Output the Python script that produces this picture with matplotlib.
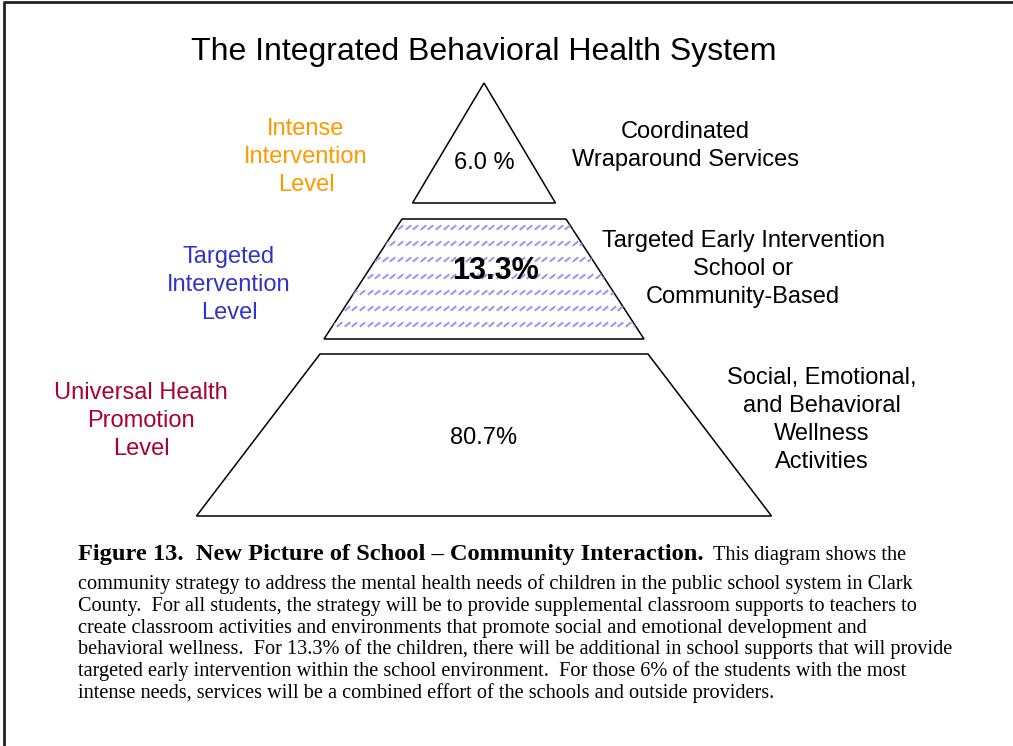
import matplotlib
matplotlib.use('Agg')
import matplotlib.pyplot as plt
import numpy as np
from matplotlib.patches import Polygon
from matplotlib.path import Path

plt.rcParams['font.family'] = ['Liberation Sans', 'DejaVu Sans']

# data
title = 'The Integrated Behavioral Health System'
levels = ['Intense\nIntervention\nLevel',
          'Targeted\nIntervention\nLevel',
          'Universal Health\nPromotion\nLevel']
level_colors = ['#ff9900', '#3333cc', '#aa0033']
shares = [6.0, 13.3, 80.7]
share_labels = ['6.0 %', '13.3%', '80.7%']
services = ['Coordinated\nWraparound Services',
            'Targeted Early Intervention\nSchool or\nCommunity-Based',
            'Social, Emotional,\nand Behavioral\nWellness\nActivities']
caption_head = 'Figure 13.  New Picture of School \u2013 Community Interaction.'
caption_first = 'This diagram shows the'
caption_rest = [
    'community strategy to address the mental health needs of children in the public school system in Clark',
    'County.  For all students, the strategy will be to provide supplemental classroom supports to teachers to',
    'create classroom activities and environments that promote social and emotional development and',
    'behavioral wellness.  For 13.3% of the children, there will be additional in school supports that will provide',
    'targeted early intervention within the school environment.  For those 6% of the students with the most',
    'intense needs, services will be a combined effort of the schools and outside providers.',
]

fig = plt.figure(figsize=(10.13, 7.46), dpi=100)
ax = fig.add_axes([0, 0, 1, 1])
ax.set_xlim(0, 1013)
ax.set_ylim(746, 0)
ax.axis('off')

# frame (left and top edges only visible)
ax.plot([4, 4, 1013], [746, 2, 2], color='#222222', lw=2, solid_capstyle='butt')

ax.text(484, 52, title, ha='center', va='center', fontsize=23)

# tiers: (y_top, y_bottom, half width top, half width bottom)
cx = 484
tiers = [(83, 203, 0, 71.5), (219, 339, 82, 160), (354, 516, 164, 287.5)]
share_pos = [(484, 163), (495, 271), (484, 438)]
level_pos = [(306, 157), (229, 285), (141, 421)]
service_pos = [(685, 146), (743, 269), (822, 420)]

for i, (yt, yb, wt, wb) in enumerate(tiers):
    pts = [(cx - wt, yt), (cx + wt, yt), (cx + wb, yb), (cx - wb, yb)]
    poly = Polygon(pts, closed=True, facecolor='white', edgecolor='black', lw=1.1, zorder=2)
    ax.add_patch(poly)
    if i == 1:
        # dashed diagonal texture
        xs, ys = np.meshgrid(np.arange(cx - wb, cx + wb + 8, 7.6), np.arange(yt + 8, yb, 16.2))
        dash = Path([(-1, -0.8), (1, 0.8)], [Path.MOVETO, Path.LINETO])
        sc = ax.scatter(xs.ravel(), ys.ravel(), marker=dash, s=16, color='#9a9af2',
                        linewidths=1.5, zorder=3)
        sc.set_clip_path(poly)
    bold = i == 1
    ax.text(*share_pos[i], share_labels[i], ha='center', va='center', zorder=4,
            fontsize=22 if bold else 17, fontweight='bold' if bold else 'normal')
    ax.text(*level_pos[i], levels[i], ha='center', va='center', fontsize=17,
            color=level_colors[i], linespacing=1.36)
    ax.text(*service_pos[i], services[i], ha='center', va='center', fontsize=17,
            linespacing=1.36)

# caption
serif = ['Liberation Serif', 'DejaVu Serif']
head = ax.text(78, 560, caption_head, ha='left', va='baseline', fontsize=17.6,
               fontweight='bold', family=serif)
fig.canvas.draw()
bb = head.get_window_extent().transformed(ax.transData.inverted())
ax.text(bb.x1 + 9, 560, caption_first, ha='left', va='baseline', fontsize=14.6, family=serif)
for k, line in enumerate(caption_rest):
    ax.text(78, 589 + 21.8 * k, line, ha='left', va='baseline', fontsize=14.6, family=serif)

fig.savefig('out.png', dpi=100)
